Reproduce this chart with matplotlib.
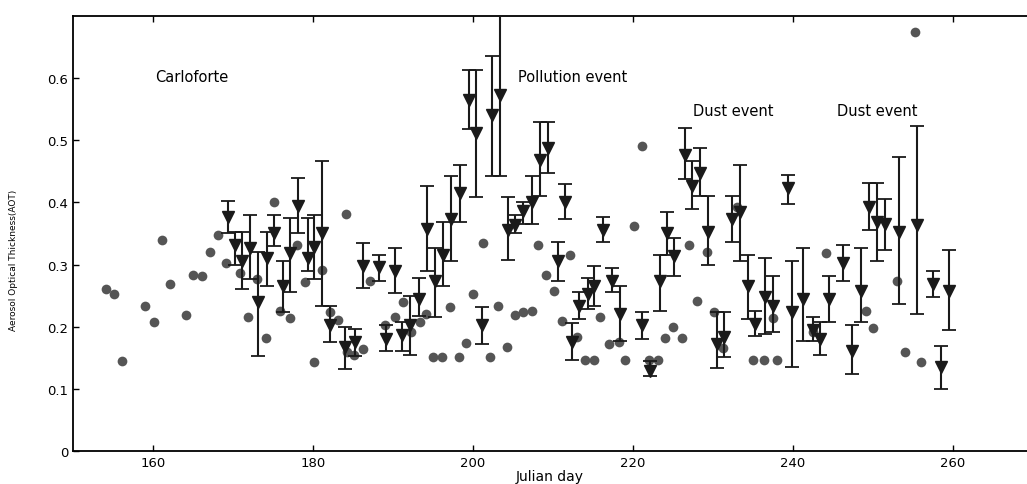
import matplotlib
matplotlib.use('Agg')
import matplotlib.pyplot as plt
import numpy as np

plt.rcParams['font.family'] = ['DejaVu Sans']

# gray dots: (julian day, AOT)
dot_day = [154.1, 155.1, 156.1, 159.0, 160.1, 161.2, 162.1, 164.1, 165.0, 166.1,
           167.1, 168.1, 169.2, 170.9, 171.9, 173.0, 174.2, 175.1, 175.9, 177.1,
           178.0, 179.0, 180.1, 181.2, 182.1, 183.1, 184.2, 184.3, 185.2, 186.3,
           187.1, 189.0, 190.3, 191.3, 192.3, 193.4, 194.2, 195.0, 196.2, 197.2,
           198.3, 199.1, 200.0, 201.3, 202.1, 203.1, 204.3, 205.3, 206.3, 207.4,
           208.1, 209.1, 210.2, 211.1, 212.1, 213.0, 214.0, 215.1, 215.9, 217.0,
           218.3, 219.0, 220.2, 221.2, 222.0, 223.2, 224.0, 225.0, 226.1, 227.0,
           228.0, 229.3, 230.1, 231.3, 233.1, 235.1, 236.4, 237.5, 238.1, 242.5,
           244.2, 249.2, 250.1, 253.0, 254.0, 255.3, 256.0]
dot_aot = [0.260, 0.253, 0.145, 0.234, 0.208, 0.339, 0.268, 0.219, 0.284, 0.281,
           0.321, 0.348, 0.302, 0.287, 0.216, 0.277, 0.182, 0.401, 0.226, 0.214,
           0.332, 0.272, 0.144, 0.292, 0.224, 0.211, 0.382, 0.160, 0.155, 0.164,
           0.273, 0.203, 0.216, 0.239, 0.192, 0.207, 0.221, 0.152, 0.152, 0.232,
           0.152, 0.174, 0.253, 0.335, 0.152, 0.234, 0.167, 0.219, 0.224, 0.226,
           0.332, 0.284, 0.258, 0.210, 0.316, 0.184, 0.147, 0.147, 0.215, 0.172,
           0.176, 0.147, 0.362, 0.490, 0.147, 0.147, 0.182, 0.200, 0.182, 0.332,
           0.241, 0.320, 0.224, 0.165, 0.393, 0.146, 0.146, 0.214, 0.146, 0.192,
           0.318, 0.226, 0.198, 0.274, 0.160, 0.674, 0.143]

# triangles with error bars: day, mean AOT, lower end, upper end
tri_day = [169.4, 170.3, 171.1, 172.1, 173.1, 174.3, 175.2, 176.3, 177.2, 178.2,
           179.4, 180.2, 181.2, 182.1, 184.0, 185.3, 186.3, 188.3, 189.1, 190.3,
           191.1, 192.1, 193.3, 194.3, 195.3, 196.3, 197.3, 198.4, 199.5, 200.4,
           201.1, 202.4, 203.4, 204.4, 205.3, 206.3, 207.4, 208.4, 209.4, 210.6,
           211.5, 212.4, 213.3, 214.4, 215.2, 216.3, 217.4, 218.4, 221.2, 222.2,
           223.4, 224.3, 225.2, 226.5, 227.4, 228.4, 229.4, 230.5, 231.4, 232.4,
           233.4, 234.4, 235.3, 236.5, 237.6, 239.4, 239.9, 241.3, 242.6, 243.4,
           244.5, 246.3, 247.4, 248.5, 249.5, 250.5, 251.6, 253.3, 255.6, 257.5,
           258.5, 259.5]
tri_aot = [0.377, 0.331, 0.306, 0.327, 0.240, 0.310, 0.350, 0.265, 0.318, 0.394,
           0.310, 0.329, 0.350, 0.202, 0.168, 0.176, 0.298, 0.296, 0.181, 0.290,
           0.186, 0.202, 0.245, 0.358, 0.273, 0.315, 0.374, 0.415, 0.564, 0.511,
           0.202, 0.540, 0.573, 0.356, 0.363, 0.387, 0.401, 0.468, 0.487, 0.305,
           0.400, 0.176, 0.234, 0.253, 0.265, 0.355, 0.274, 0.221, 0.202, 0.129,
           0.273, 0.350, 0.313, 0.476, 0.426, 0.447, 0.353, 0.173, 0.184, 0.374,
           0.385, 0.265, 0.205, 0.248, 0.234, 0.423, 0.224, 0.245, 0.194, 0.181,
           0.245, 0.302, 0.161, 0.258, 0.392, 0.369, 0.366, 0.353, 0.363, 0.269,
           0.135, 0.258]
tri_lo = [0.350, 0.300, 0.261, 0.277, 0.153, 0.265, 0.330, 0.224, 0.256, 0.350,
          0.289, 0.277, 0.234, 0.176, 0.132, 0.153, 0.262, 0.273, 0.161, 0.255,
          0.161, 0.155, 0.218, 0.290, 0.216, 0.266, 0.305, 0.369, 0.518, 0.408,
          0.173, 0.442, 0.442, 0.308, 0.350, 0.365, 0.365, 0.410, 0.447, 0.273,
          0.373, 0.147, 0.213, 0.229, 0.234, 0.337, 0.256, 0.177, 0.181, 0.121,
          0.226, 0.315, 0.281, 0.437, 0.390, 0.411, 0.300, 0.134, 0.152, 0.337,
          0.305, 0.213, 0.185, 0.189, 0.192, 0.397, 0.135, 0.177, 0.177, 0.155,
          0.208, 0.274, 0.124, 0.208, 0.355, 0.306, 0.323, 0.237, 0.221, 0.248,
          0.100, 0.194]
tri_hi = [0.402, 0.353, 0.353, 0.379, 0.321, 0.353, 0.379, 0.305, 0.375, 0.439,
          0.375, 0.379, 0.466, 0.234, 0.200, 0.197, 0.335, 0.316, 0.202, 0.326,
          0.208, 0.250, 0.279, 0.426, 0.327, 0.369, 0.442, 0.460, 0.613, 0.613,
          0.232, 0.635, 0.720, 0.408, 0.379, 0.400, 0.442, 0.529, 0.529, 0.337,
          0.429, 0.206, 0.256, 0.279, 0.297, 0.376, 0.294, 0.265, 0.224, 0.145,
          0.315, 0.385, 0.343, 0.519, 0.466, 0.487, 0.410, 0.224, 0.224, 0.410,
          0.460, 0.315, 0.226, 0.310, 0.281, 0.444, 0.306, 0.327, 0.215, 0.208,
          0.281, 0.331, 0.202, 0.326, 0.431, 0.431, 0.406, 0.473, 0.523, 0.290,
          0.169, 0.323]

tri_aot = np.array(tri_aot)
yerr = [tri_aot - np.array(tri_lo), np.array(tri_hi) - tri_aot]

fig = plt.figure(figsize=(10.27, 4.85), dpi=100)
ax = fig.add_axes([0.071, 0.068, 0.929, 0.897])

ax.plot(dot_day, dot_aot, 'o', color='#555555', markersize=7,
        markeredgewidth=0, zorder=2)
ax.errorbar(tri_day, tri_aot, yerr=yerr, fmt='v', color='#1a1a1a',
            ecolor='#1a1a1a', elinewidth=1.5, capsize=5, capthick=1.3,
            markersize=9, zorder=3)

ax.text(160.3, 0.603, 'Carloforte', fontsize=10.5, va='center')
ax.text(205.6, 0.603, 'Pollution event', fontsize=10.5, va='center')
ax.text(227.5, 0.548, 'Dust event', fontsize=10.5, va='center')
ax.text(245.5, 0.548, 'Dust event', fontsize=10.5, va='center')

ax.set_xlim(150, 269.3)
ax.set_ylim(0, 0.7)
ax.set_xticks([160, 180, 200, 220, 240, 260])
ax.set_yticks([0, 0.1, 0.2, 0.3, 0.4, 0.5, 0.6])
ax.set_yticklabels(['0', '0.1', '0.2', '0.3', '0.4', '0.5', '0.6'])
ax.tick_params(direction='in', length=4, width=1, labelsize=9.5, top=True)
ax.spines['right'].set_visible(False)
for s in ['left', 'bottom', 'top']:
    ax.spines[s].set_linewidth(1.3)

ax.set_xlabel('Julian day', fontsize=10, labelpad=0)
ax.set_ylabel('Aerosol Optical Thickness(AOT)', fontsize=6.5)
ax.yaxis.set_label_coords(-0.058, 0.44)

fig.savefig('out.png', dpi=100, facecolor='white')
